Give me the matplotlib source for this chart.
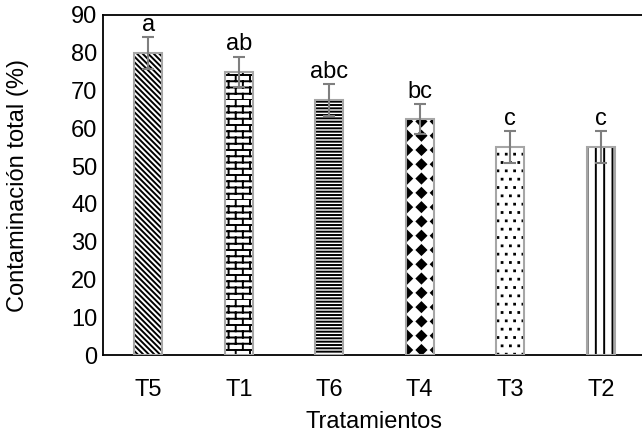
import warnings
warnings.filterwarnings("ignore")
import numpy as np
import matplotlib
matplotlib.use("Agg")
import matplotlib.pyplot as plt
import matplotlib.hatch as mhatch
from matplotlib.path import Path

categories = ["T5", "T1", "T6", "T4", "T3", "T2"]
values = [80.0, 75.0, 67.5, 62.5, 55.0, 55.0]
errors = [4.2, 4.0, 4.2, 4.0, 4.2, 4.2]
letters = ["a", "ab", "abc", "bc", "c", "c"]
hatches = ["\\\\\\\\\\\\", "B", "-----", "D", "P", "||"]


class Bricks(mhatch.HatchPatternBase):
    def __init__(self, hatch, density):
        n = hatch.count("B")
        self.rows = 16 * n
        self.cols = 7 * n
        self.num_vertices = 0 if n == 0 else 2 * self.rows + 2 * self.rows * self.cols

    def set_vertices_and_codes(self, vertices, codes):
        v = []
        for i in range(self.rows):
            y = i / self.rows
            v += [(0, y), (1, y)]
        for i in range(self.rows):
            y0 = i / self.rows
            y1 = (i + 1) / self.rows
            for j in range(self.cols):
                x = (j + 0.5 * (i % 2)) / self.cols
                v += [(x, y0), (x, y1)]
        vertices[:] = np.array(v)
        codes[0::2] = Path.MOVETO
        codes[1::2] = Path.LINETO


class Diamonds(mhatch.HatchPatternBase):
    def __init__(self, hatch, density):
        n = hatch.count("D")
        self.rows = 7 * n
        self.cols = 7 * n
        self.num_vertices = 0 if n == 0 else self.rows * self.cols * 5

    def set_vertices_and_codes(self, vertices, codes):
        v = []
        c = []
        rx = 0.33 / self.cols
        ry = 0.33 / self.rows
        for i in range(self.rows):
            for j in range(self.cols):
                cx = (j + 0.5) / self.cols
                cy = (i + 0.5) / self.rows
                v += [(cx, cy + ry), (cx + rx, cy), (cx, cy - ry), (cx - rx, cy), (cx, cy + ry)]
                c += [Path.MOVETO, Path.LINETO, Path.LINETO, Path.LINETO, Path.CLOSEPOLY]
        vertices[:] = np.array(v)
        codes[:] = np.array(c)


class Dots(mhatch.HatchPatternBase):
    def __init__(self, hatch, density):
        n = hatch.count("P")
        self.rows = 12 * n
        self.cols = 12 * n
        self.num_vertices = 0 if n == 0 else self.rows * self.cols * 5

    def set_vertices_and_codes(self, vertices, codes):
        v = []
        c = []
        r = 0.004
        for i in range(self.rows):
            for j in range(self.cols):
                cx = (j + 0.25 + 0.5 * (i % 2)) / self.cols
                cy = (i + 0.5) / self.rows
                v += [(cx - r, cy - r), (cx + r, cy - r), (cx + r, cy + r), (cx - r, cy + r), (cx - r, cy - r)]
                c += [Path.MOVETO, Path.LINETO, Path.LINETO, Path.LINETO, Path.CLOSEPOLY]
        vertices[:] = np.array(v)
        codes[:] = np.array(c)


mhatch._hatch_types.append(Bricks)
mhatch._hatch_types.append(Diamonds)
mhatch._hatch_types.append(Dots)

plt.rcParams["font.family"] = ["Liberation Sans", "DejaVu Sans"]
plt.rcParams["hatch.linewidth"] = 1.4

FS = 17
W, H = 642, 436
fig = plt.figure(figsize=(W / 100, H / 100), dpi=100)
left, right, top, bottom = 103, 646, 15, 355
ax = fig.add_axes([left / W, 1 - bottom / H, (right - left) / W, (bottom - top) / H])

x = np.arange(len(categories))
width = 0.31
for xi, v, h in zip(x, values, hatches):
    ax.bar(xi, v, width, color="white", edgecolor="black", linewidth=0, hatch=h, zorder=2)
ax.bar(x, values, width, fill=False, edgecolor="#a6a6a6", linewidth=1.5, zorder=3)
ax.errorbar(x, values, yerr=errors, fmt="none", ecolor="#7f7f7f", elinewidth=1.5,
            capsize=4.5, capthick=1.5, zorder=4)
for xi, v, e, l in zip(x, values, errors, letters):
    ax.text(xi, v + e + 0.3, l, ha="center", va="bottom", fontsize=FS)

ax.set_xlim(-0.5, len(categories) - 0.5)
ax.set_ylim(0, 90)
ax.set_yticks(range(0, 91, 10))
ax.set_xticks(x)
ax.set_xticklabels(categories)
ax.tick_params(axis="both", length=0, labelsize=FS)
ax.tick_params(axis="y", pad=4)
ax.tick_params(axis="x", pad=17)
for s in ax.spines.values():
    s.set_color("black")
    s.set_linewidth(1.3)
ax.set_ylabel("Contaminación total (%)", fontsize=FS)
ax.set_xlabel("Tratamientos", fontsize=FS)
ax.yaxis.set_label_coords((18 - left) / (right - left), 0.5)
ax.xaxis.set_label_coords(0.5, (bottom - 422) / (bottom - top))
ax.xaxis.label.set_va("center")
ax.yaxis.label.set_va("center")

fig.savefig("out.png", dpi=100)
